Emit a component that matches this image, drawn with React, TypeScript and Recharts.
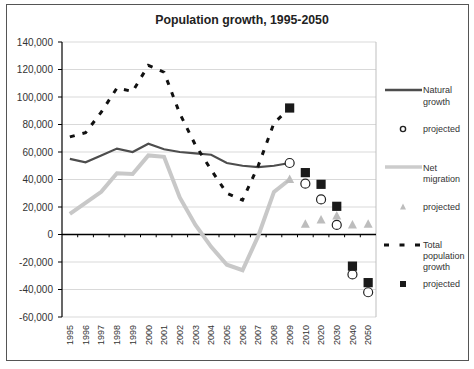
import {
  ComposedChart,
  CartesianGrid,
  XAxis,
  YAxis,
  Line,
  Legend,
  ReferenceLine,
} from "recharts";

const FONT = "'Liberation Sans', Arial, sans-serif";

// categories
const years = [
  "1995", "1996", "1997", "1998", "1999", "2000", "2001", "2002", "2003", "2004",
  "2005", "2006", "2007", "2008", "2009", "2010", "2020", "2030", "2040", "2050",
];

// observed 1995-2009
const naturalGrowth = [55000, 52500, 57500, 62500, 60000, 66000, 62000, 60000, 59000, 58000, 52000, 50000, 49000, 50000, 52000];
const netMigration = [15000, 23000, 31000, 44500, 44000, 57500, 56500, 27000, 7000, -9000, -22000, -26000, -1000, 31000, 40000];
const totalGrowth = [71000, 74000, 89000, 106500, 104000, 123000, 118000, 88000, 65000, 47000, 30000, 25000, 50000, 81000, 92000];

// projected 2009, 2010, 2020, 2030, 2040, 2050
const projectedFrom = 14;
const naturalProjected = [52000, 37000, 25500, 7000, -29000, -42000];
const migrationProjected = [40000, 7500, 10500, 13500, 7000, 7500];
const totalProjected = [92000, 45000, 36500, 20500, -23000, -35000];

const yTicks = [-60000, -40000, -20000, 0, 20000, 40000, 60000, 80000, 100000, 120000, 140000];

const data = years.map((label, i) => ({
  i,
  label,
  natural: i < naturalGrowth.length ? naturalGrowth[i] : null,
  migration: i < netMigration.length ? netMigration[i] : null,
  total: i < totalGrowth.length ? totalGrowth[i] : null,
  naturalProj: i >= projectedFrom ? naturalProjected[i - projectedFrom] : null,
  migrationProj: i >= projectedFrom ? migrationProjected[i - projectedFrom] : null,
  totalProj: i >= projectedFrom ? totalProjected[i - projectedFrom] : null,
}));

const okPoint = (p: any) =>
  typeof p.cy === "number" && !isNaN(p.cy) && p.value != null;

const CircleDot = (p: any) =>
  okPoint(p) ? (
    <circle key={p.index} cx={p.cx} cy={p.cy} r={4.5} fill="#fff" stroke="#222" strokeWidth={1.2} />
  ) : (
    <g key={p.index} />
  );

const TriangleDot = (p: any) =>
  okPoint(p) ? (
    <path
      key={p.index}
      d={`M${p.cx},${p.cy - 5}L${p.cx + 4.5},${p.cy + 3.5}L${p.cx - 4.5},${p.cy + 3.5}Z`}
      fill="#bdbdbd"
    />
  ) : (
    <g key={p.index} />
  );

const SquareDot = (p: any) =>
  okPoint(p) ? (
    <rect key={p.index} x={p.cx - 4.6} y={p.cy - 4.6} width={9.2} height={9.2} fill="#1a1a1a" />
  ) : (
    <g key={p.index} />
  );

const YearTick = ({ x, y, payload }: any) => (
  <g transform={`translate(${x},${y})`}>
    <text
      transform="rotate(-90)"
      x={-8}
      dy="0.35em"
      textAnchor="end"
      fontSize={9}
      fontFamily={FONT}
      fill="#333"
    >
      {years[payload.value]}
    </text>
  </g>
);

const LegendBox = () => {
  const txt = { fontSize: 9, fontFamily: FONT, fill: "#333" };
  return (
    <svg width={94} height={220}>
      <line x1={5} x2={42} y1={10} y2={10} stroke="#4d4d4d" strokeWidth={2.5} />
      <text x={43} y={13} {...txt}>Natural</text>
      <text x={43} y={25} {...txt}>growth</text>

      <circle cx={23} cy={49} r={2.6} fill="#fff" stroke="#222" strokeWidth={1.4} />
      <text x={43} y={52} {...txt}>projected</text>

      <line x1={5} x2={42} y1={87} y2={87} stroke="#cccccc" strokeWidth={3.5} />
      <text x={43} y={91} {...txt}>Net</text>
      <text x={43} y={102} {...txt}>migration</text>

      <path d="M23,123.5L26,129.5L20,129.5Z" fill="#bdbdbd" />
      <text x={43} y={130} {...txt}>projected</text>

      <line x1={4} x2={42} y1={165} y2={165} stroke="#111" strokeWidth={3} strokeDasharray="5 10.5" />
      <text x={43} y={168} {...txt}>Total</text>
      <text x={43} y={179} {...txt}>population</text>
      <text x={43} y={190} {...txt}>growth</text>

      <rect x={20} y={201} width={6} height={6} fill="#1a1a1a" />
      <text x={43} y={207} {...txt}>projected</text>
    </svg>
  );
};

export default function App() {
  return (
    <div style={{ position: "absolute", left: 0, top: 0, width: 474, height: 369, background: "#fff" }}>
      <div
        style={{
          position: "absolute",
          left: 6,
          top: 4,
          width: 463,
          height: 357,
          boxSizing: "border-box",
          border: "1.5px solid #555",
        }}
      />
      <div
        style={{
          position: "absolute",
          left: 0,
          top: 13,
          width: 484,
          textAlign: "center",
          fontFamily: FONT,
          fontWeight: 700,
          fontSize: 12.3,
          color: "#222",
        }}
      >
        Population growth, 1995-2050
      </div>
      <div style={{ position: "absolute", left: 0, top: 0 }}>
        <ComposedChart
          width={474}
          height={369}
          data={data}
          margin={{ top: 42, right: 98, bottom: 0, left: 0 }}
        >
          <CartesianGrid horizontal vertical={false} stroke="#d9d9d9" />
          <XAxis
            dataKey="i"
            type="number"
            domain={[-0.5, 19.5]}
            ticks={years.map((_, i) => i)}
            interval={0}
            height={52}
            axisLine={false}
            tickLine={false}
            tickSize={0}
            tickMargin={0}
            tick={<YearTick />}
          />
          <YAxis
            domain={[-60000, 140000]}
            ticks={yTicks}
            interval={0}
            width={62}
            axisLine={{ stroke: "#000", strokeWidth: 1.2 }}
            tickLine={{ stroke: "#000" }}
            tickSize={4}
            tickMargin={5}
            tickFormatter={(v: number) => v.toLocaleString("en-US")}
            tick={{ fontSize: 10, fill: "#333", fontFamily: FONT }}
          />
          <ReferenceLine x={19.5} stroke="#bfbfbf" />
          <ReferenceLine y={0} stroke="#000" strokeWidth={1.5} />
          {years.slice(1).map((_, k) => (
            <ReferenceLine
              key={k}
              segment={[
                { x: k + 0.5, y: 0 },
                { x: k + 0.5, y: -2000 },
              ]}
              stroke="#000"
            />
          ))}
          <Legend
            layout="vertical"
            align="center"
            verticalAlign="middle"
            content={() => <LegendBox />}
            wrapperStyle={{ left: 380, top: 80, width: 94, height: 220 }}
          />
          <Line
            dataKey="migration"
            stroke="#c8c8c8"
            strokeWidth={4}
            dot={false}
            isAnimationActive={false}
            type="linear"
          />
          <Line
            dataKey="natural"
            stroke="#4d4d4d"
            strokeWidth={2.2}
            dot={false}
            isAnimationActive={false}
            type="linear"
          />
          <Line
            dataKey="total"
            stroke="#111"
            strokeWidth={3}
            strokeDasharray="5 8"
            dot={false}
            isAnimationActive={false}
            type="linear"
          />
          <Line dataKey="migrationProj" stroke="none" dot={TriangleDot} activeDot={false} isAnimationActive={false} />
          <Line dataKey="naturalProj" stroke="none" dot={CircleDot} activeDot={false} isAnimationActive={false} />
          <Line dataKey="totalProj" stroke="none" dot={SquareDot} activeDot={false} isAnimationActive={false} />
        </ComposedChart>
      </div>
    </div>
  );
}
